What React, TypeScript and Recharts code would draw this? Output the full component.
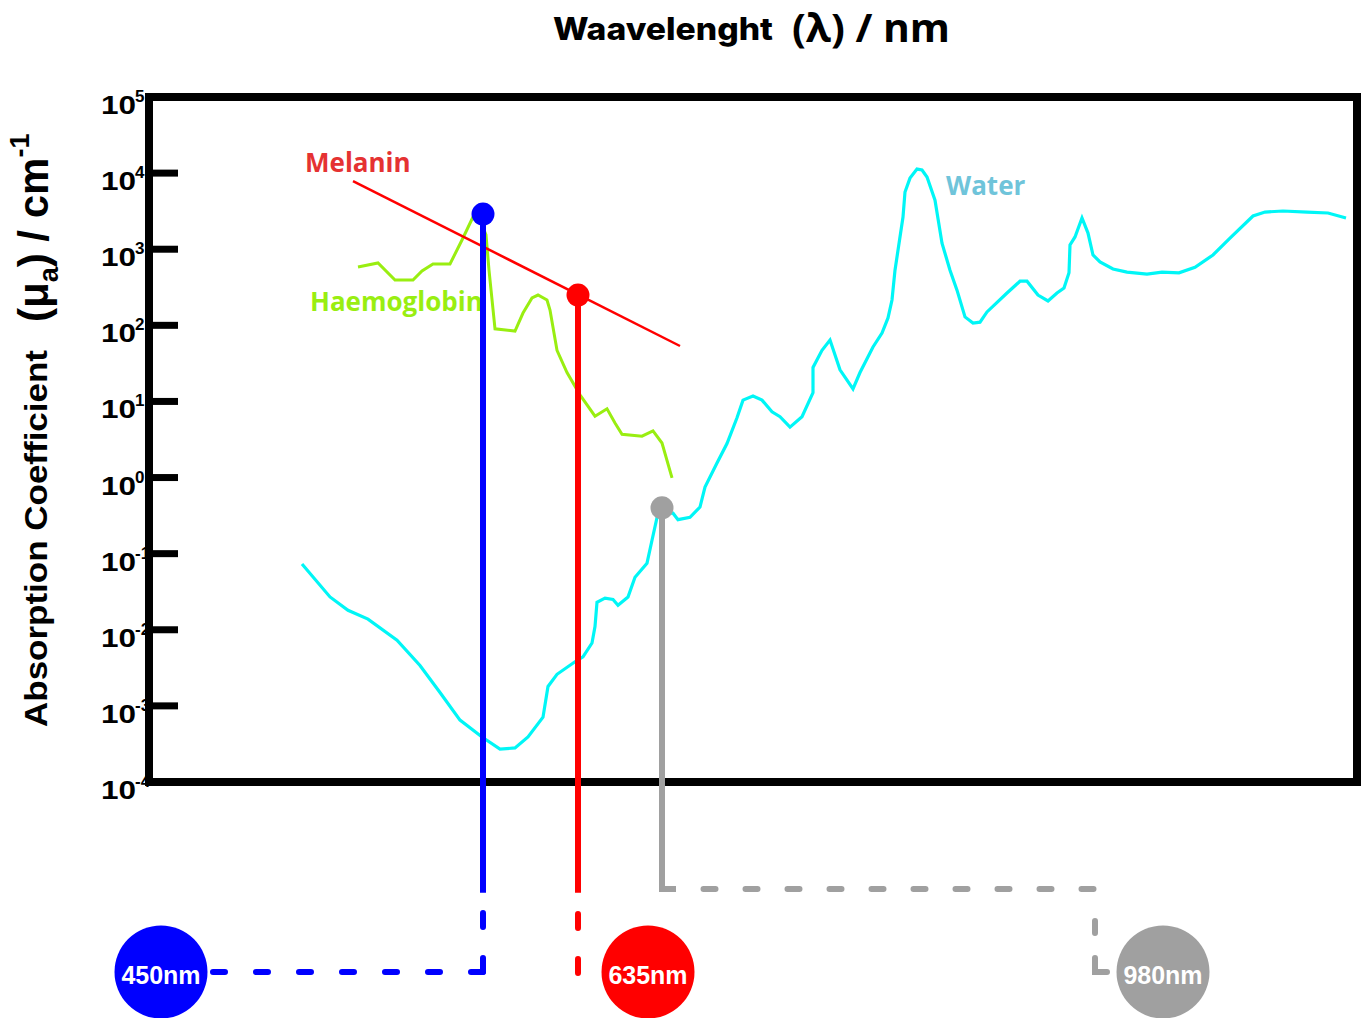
import { ComposedChart, Line, Scatter, XAxis, YAxis, ReferenceArea } from 'recharts';

const ARIAL = '"Liberation Sans", Arial, sans-serif';
const OPEN = '"Open Sans", sans-serif';

// y axis: powers of ten shown on the left
const yExponents = [-4, -3, -2, -1, 0, 1, 2, 3, 4, 5];
const yTicks = yExponents.map((e) => Math.pow(10, e));
// the lower part of the canvas (connectors, wavelength badges) continues the log scale below 1e-4
const Y_MIN = Math.pow(10, -7.101);
const X_MAX = 1208;

// [position, absorption coefficient]
const water: [number, number][] = [
  [153, 0.073], [181, 0.027], [199, 0.018], [219, 0.0138], [248, 0.0073], [271, 0.0034],
  [291, 0.0015], [311, 0.00065], [333, 0.00039], [351, 0.00027], [366, 0.00028], [379, 0.00039],
  [394, 0.00071], [399, 0.0018], [408, 0.0026], [426, 0.0038], [434, 0.0044], [443, 0.0067],
  [446, 0.011], [448, 0.023], [456, 0.026], [464, 0.025], [469, 0.021], [479, 0.027],
  [486, 0.049], [498, 0.075], [503, 0.15], [509, 0.34], [524, 0.34], [529, 0.28],
  [541, 0.3], [551, 0.41], [556, 0.75], [568, 1.55], [578, 2.8], [588, 6.1],
  [594, 10.4], [604, 11.8], [613, 10.4], [623, 7.3], [631, 6.3], [641, 4.6],
  [653, 6.3], [664, 13], [664, 28], [673, 47], [681, 64], [691, 26],
  [704, 14.6], [711, 24], [724, 52], [733, 79], [739, 125], [743, 215],
  [746, 530], [754, 2650], [756, 5650], [761, 8600], [768, 11300], [773, 11000],
  [778, 8900], [786, 4400], [793, 1200], [801, 530], [808, 290], [816, 129],
  [824, 107], [831, 110], [838, 150], [858, 266], [871, 380], [878, 380],
  [889, 250], [899, 209], [908, 266], [915, 310], [920, 490], [921, 1140],
  [926, 1450], [933, 2570], [939, 1630], [944, 840], [951, 680], [964, 550],
  [978, 500], [998, 470], [1013, 500], [1030, 490], [1046, 580], [1064, 840],
  [1081, 1400], [1104, 2730], [1116, 3080], [1134, 3180], [1158, 3080], [1179, 2990],
  [1197, 2570],
];

const haemoglobin: [number, number][] = [
  [209, 584], [229, 660], [246, 394], [264, 394], [273, 518], [284, 640],
  [301, 640], [313, 1320], [324, 2650], [329, 2820], [337, 1540], [340, 533],
  [346, 90], [366, 84], [374, 145], [383, 229], [389, 250], [398, 215],
  [401, 159], [408, 47], [418, 24], [431, 12.2], [446, 6.4], [458, 8.0],
  [466, 5.2], [473, 3.7], [493, 3.5], [504, 4.1], [513, 2.84], [523, 0.99],
];

const melanin: [number, number][] = [[204, 7870], [531, 53.5]];

// the three sources
const wavelengths = ['450nm', '635nm', '980nm'];
const sourceColors = ['#0000ff', '#ff0000', '#a0a0a0'];
const stemX = [334, 429, 513];
const stemTop = [2900, 250, 0.4];
const stemBottom = [3.5e-6, 3.5e-6, 3.93e-6];
const badgeX = [12, 499, 1014];
const badgeLevel = 3.19e-7;

const toPts = (arr: [number, number][]) => arr.map(([x, y]) => ({ x, y }));

const stems = stemX.map((x, i) => {
  const pts = [{ x, y: stemTop[i] }, { x, y: stemBottom[i] }];
  if (i === 2) pts.push({ x: 527, y: stemBottom[i] });
  return pts;
});

const tops = stemX.map((x, i) => ({ x, y: stemTop[i], color: sourceColors[i] }));
const badges = badgeX.map((x, i) => ({ x, y: badgeLevel, color: sourceColors[i], label: wavelengths[i] }));

// dashed connectors from the stems to the badges
const blueDown = [{ x: 334, y: badgeLevel }, { x: 334, y: 3.6e-6 }];
const blueAcross = [{ x: 334, y: badgeLevel }, { x: 61, y: badgeLevel }];
const redDown = [{ x: 429, y: 3.09e-7 }, { x: 429, y: 3.5e-6 }];
const greyAcross = [{ x: 554.5, y: 3.93e-6 }, { x: 944.5, y: 3.93e-6 }];
const greyDown = [{ x: 946, y: 1.49e-6 }, { x: 946, y: badgeLevel }, { x: 958, y: badgeLevel }];

function LogTick(props: any) {
  const { y, index } = props;
  return (
    <g>
      <line x1={149} x2={178} y1={y} y2={y} stroke="#000" strokeWidth={7} />
      <text x={101} y={y + 17} fontSize={26} fontWeight={700} fontFamily={ARIAL} fill="#000"
        textLength={35} lengthAdjust="spacingAndGlyphs">10</text>
      <text x={135} y={y + 5} fontSize={17} fontWeight={700} fontFamily={ARIAL} fill="#000">
        {String(yExponents[index])}
      </text>
    </g>
  );
}

const Dot = (p: any) => <circle cx={p.cx} cy={p.cy} r={11.5} fill={p.payload.color} />;

const Badge = (p: any) => (
  <g>
    <circle cx={p.cx} cy={p.cy} r={46.5} fill={p.payload.color} />
    <text x={p.cx} y={p.cy + 12} textAnchor="middle" fill="#fff" fontSize={25} fontWeight={700}
      fontFamily={ARIAL}>{p.payload.label}</text>
  </g>
);

export default function App() {
  return (
    <div style={{ position: 'absolute', left: 0, top: 0, width: 1370, height: 1018, background: '#fff' }}>
      <ComposedChart width={1370} height={1018} margin={{ top: 97, right: 13, bottom: 0, left: 0 }}>
        <XAxis type="number" dataKey="x" domain={[0, X_MAX]} hide />
        <YAxis
          type="number"
          dataKey="y"
          scale="log"
          domain={[Y_MIN, 1e5]}
          ticks={yTicks}
          interval={0}
          width={149}
          axisLine={false}
          tickLine={false}
          tick={<LogTick />}
        />
        <ReferenceArea x1={0} x2={X_MAX} y1={1e-4} y2={1e5} fill="none" stroke="#000" strokeWidth={8} />

        <Line data={toPts(water)} dataKey="y" type="linear" stroke="#00f6f6" strokeWidth={3.2}
          dot={false} activeDot={false} isAnimationActive={false} />
        <Line data={toPts(haemoglobin)} dataKey="y" type="linear" stroke="#99ee11" strokeWidth={3}
          dot={false} activeDot={false} isAnimationActive={false} />
        <Line data={toPts(melanin)} dataKey="y" type="linear" stroke="#ff0000" strokeWidth={2.5}
          dot={false} activeDot={false} isAnimationActive={false} />

        {stems.map((pts, i) => (
          <Line key={`stem-${i}`} data={pts} dataKey="y" type="linear" stroke={sourceColors[i]}
            strokeWidth={6} dot={false} activeDot={false} isAnimationActive={false} />
        ))}

        <Line data={blueDown} dataKey="y" type="linear" stroke="#0000ff" strokeWidth={6} strokeDasharray="14 31"
          strokeLinecap="round" dot={false} activeDot={false} isAnimationActive={false} />
        <Line data={blueAcross} dataKey="y" type="linear" stroke="#0000ff" strokeWidth={6} strokeDasharray="12 31"
          strokeLinecap="round" dot={false} activeDot={false} isAnimationActive={false} />
        <Line data={redDown} dataKey="y" type="linear" stroke="#ff0000" strokeWidth={6} strokeDasharray="14 31"
          strokeLinecap="round" dot={false} activeDot={false} isAnimationActive={false} />
        <Line data={greyAcross} dataKey="y" type="linear" stroke="#a0a0a0" strokeWidth={6} strokeDasharray="12 30"
          strokeLinecap="round" dot={false} activeDot={false} isAnimationActive={false} />
        <Line data={greyDown} dataKey="y" type="linear" stroke="#a0a0a0" strokeWidth={6} strokeDasharray="12 25 100"
          strokeLinecap="round" dot={false} activeDot={false} isAnimationActive={false} />

        <Scatter data={tops} dataKey="y" shape={Dot} isAnimationActive={false} />
        <Scatter data={badges} dataKey="y" shape={Badge} isAnimationActive={false} />

        <text x={553} y={40} fontFamily="Inter, sans-serif" fontWeight={800} fontSize={31} fill="#000"
          textLength={220} lengthAdjust="spacingAndGlyphs">Waavelenght</text>
        <text x={792} y={42} fontFamily={OPEN} fontWeight={700} fontSize={40} fill="#000"
          textLength={158} lengthAdjust="spacingAndGlyphs">(λ) / nm</text>

        <text transform="translate(47,727) rotate(-90)" fontFamily={ARIAL} fontWeight={700} fontSize={31}
          fill="#000" textLength={377} lengthAdjust="spacingAndGlyphs">Absorption Coefficient</text>
        <text transform="translate(48,322) rotate(-90)" fontFamily={ARIAL} fontWeight={700} fontSize={42} fill="#000">
          (μ<tspan fontSize={27} dy={10}>a</tspan><tspan dy={-10}>) / cm</tspan><tspan fontSize={27} dy={-19}>-1</tspan>
        </text>

        <text x={305} y={172} fontFamily={OPEN} fontWeight={700} fontSize={26} fill="#e53232">Melanin</text>
        <text x={310} y={311} fontFamily={OPEN} fontWeight={700} fontSize={26} fill="#99ee11">Haemoglobin</text>
        <text x={946} y={195} fontFamily={OPEN} fontWeight={700} fontSize={26} fill="#6fc4da">Water</text>
      </ComposedChart>
    </div>
  );
}
